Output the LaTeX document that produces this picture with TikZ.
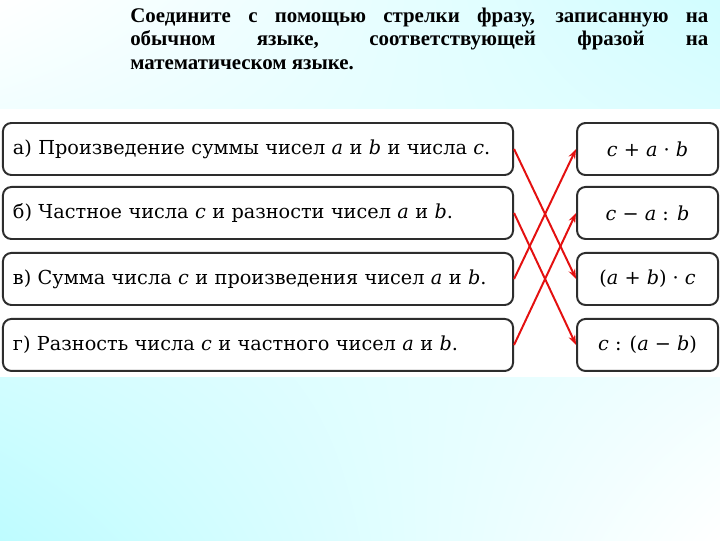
\documentclass[tikz,border=0pt]{standalone}
\usepackage{fontspec}
\setmainfont{DejaVu Serif}
\newfontfamily\titlefont{Liberation Serif}
\usetikzlibrary{positioning,arrows.meta,shadings}
\definecolor{bgcyan}{RGB}{190,252,255}
\definecolor{boxline}{RGB}{45,45,45}
\definecolor{arrowred}{RGB}{228,16,16}
\tikzset{
  phrase/.style={draw=boxline, line width=1.4pt, rounded corners=6pt, fill=white,
    minimum height=1.3cm, inner xsep=0.25cm, text width=12.25cm, align=left,
    font=\fontsize{13.7}{15}\selectfont},
  formula/.style={draw=boxline, line width=1.4pt, rounded corners=6pt, fill=white,
    minimum height=1.3cm, minimum width=3.525cm, align=center,
    font=\fontsize{13.7}{15}\selectfont},
  link/.style={draw=arrowred, line width=1.4pt, -{Stealth[length=7pt,width=5pt]}}
}
\begin{document}
\begin{tikzpicture}[x=0.025cm,y=-0.025cm]
	% background
	\shade[upper left=white, upper right=bgcyan!70, lower left=bgcyan, lower right=white] (0,0) rectangle (720,540);
	\fill[white] (0,109) rectangle (720,377);
	% task
	\node[anchor=north west, text width=14.45cm, align=justify, inner sep=0pt,
	  font=\titlefont\bfseries\fontsize{14.85}{16.5}\selectfont] (task) at (130,8)
	  {Соедините с помощью стрелки фразу, записанную на\linebreak обычном языке, соответствующей фразой на\linebreak математическом языке.};
	% phrases
	\node[phrase] (pa) at (258,149) {а) Произведение суммы чисел \textit{a} и \textit{b} и числа \textit{c}.};
	\node[phrase, below=0.25cm of pa] (pb) {б) Частное числа \textit{c} и разности чисел \textit{a} и \textit{b}.};
	\node[phrase, below=0.3cm of pb] (pc) {в) Сумма числа \textit{c} и произведения чисел \textit{a} и \textit{b}.};
	\node[phrase, below=0.3cm of pc] (pd) {г) Разность числа \textit{c} и частного чисел \textit{a} и \textit{b}.};
	% formulas
	\node[formula, right=1.55cm of pa] (fa) {\textit{c} + \textit{a} · \textit{b}};
	\node[formula, right=1.55cm of pb] (fb) {\textit{c} − \textit{a} : \textit{b}};
	\node[formula, right=1.55cm of pc] (fc) {(\textit{a} + \textit{b}) · \textit{c}};
	\node[formula, right=1.55cm of pd] (fd) {\textit{c} : (\textit{a} − \textit{b})};
	% answers
	\draw[link] (pa.east) -- (fc.west);
	\draw[link] (pb.east) -- (fd.west);
	\draw[link] (pc.east) -- (fa.west);
	\draw[link] (pd.east) -- (fb.west);
\end{tikzpicture}
\end{document}
